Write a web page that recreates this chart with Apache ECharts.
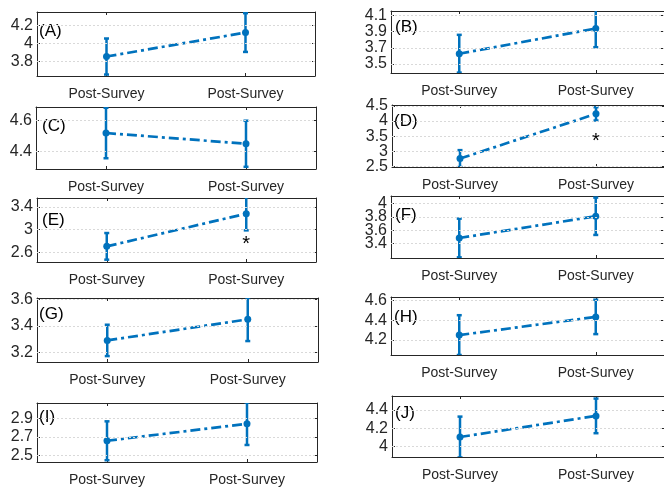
<!DOCTYPE html>
<html><head><meta charset="utf-8">
<script src="https://cdn.jsdelivr.net/npm/echarts@6/dist/echarts.min.js"></script>
<style>html,body{margin:0;padding:0;background:#fff}#c{width:664px;height:487px}</style>
</head><body><div id="c"></div>
<script>
// ---- data ----
const xLabels = ['Post-Survey', 'Post-Survey'];
const panelNames = ['(A)', '(B)', '(C)', '(D)', '(E)', '(F)', '(G)', '(H)', '(I)', '(J)'];

const meanA = [3.856, 4.122], errA = [0.200, 0.215], yRangeA = [3.64, 4.35], ticksA = [3.8, 4, 4.2];
const meanB = [3.627, 3.937], errB = [0.232, 0.230], yRangeB = [3.39, 4.152], ticksB = [3.5, 3.7, 3.9, 4.1];
const meanC = [4.519, 4.450], errC = [0.162, 0.148], yRangeC = [4.288, 4.686], ticksC = [4.4, 4.6];
const meanD = [2.757, 4.240], errD = [0.280, 0.220], yRangeD = [2.478, 4.533], ticksD = [2.5, 3, 3.5, 4, 4.5];
const meanE = [2.706, 3.282], errE = [0.235, 0.294], yRangeE = [2.43, 3.559], ticksE = [2.6, 3, 3.4];
const meanF = [3.484, 3.810], errF = [0.290, 0.280], yRangeF = [3.184, 4.114], ticksF = [3.4, 3.6, 3.8, 4];
const meanG = [3.291, 3.451], errG = [0.119, 0.165], yRangeG = [3.127, 3.613], ticksG = [3.2, 3.4, 3.6];
const meanH = [4.250, 4.433], errH = [0.200, 0.173], yRangeH = [4.05, 4.633], ticksH = [4.2, 4.4, 4.6];
const meanI = [2.658, 2.840], errI = [0.208, 0.227], yRangeI = [2.431, 3.062], ticksI = [2.5, 2.7, 2.9];
const meanJ = [4.103, 4.335], errJ = [0.224, 0.190], yRangeJ = [3.884, 4.553], ticksJ = [4, 4.2, 4.4];

// significance markers: [panel index, category index, y value]
const starD = [3, 1, 3.32];
const starE = [4, 1, 2.74];

const means = [meanA, meanB, meanC, meanD, meanE, meanF, meanG, meanH, meanI, meanJ];
const errs = [errA, errB, errC, errD, errE, errF, errG, errH, errI, errJ];
const yRanges = [yRangeA, yRangeB, yRangeC, yRangeD, yRangeE, yRangeF, yRangeG, yRangeH, yRangeI, yRangeJ];
const yTicks = [ticksA, ticksB, ticksC, ticksD, ticksE, ticksF, ticksG, ticksH, ticksI, ticksJ];
const stars = [starD, starE];

// ---- layout ----
const grids = [
  {left: 37, top: 12, width: 278, height: 64},
  {left: 391, top: 11, width: 281, height: 62},
  {left: 36, top: 107, width: 280, height: 62},
  {left: 392, top: 105, width: 280, height: 62},
  {left: 37, top: 198, width: 279, height: 64},
  {left: 391, top: 196, width: 281, height: 62},
  {left: 37, top: 298, width: 281, height: 64},
  {left: 391, top: 297, width: 280, height: 58},
  {left: 37, top: 403, width: 280, height: 60},
  {left: 392, top: 396, width: 280, height: 61}
];
const labelPos = [
  [39, 23], [395, 19], [42, 118], [394, 113], [42, 212],
  [395, 207], [39, 306], [394, 309], [39, 409], [395, 405]
];

const FONT = "'Liberation Sans', Arial, Helvetica, sans-serif";
const TXT = '#262626';
const BLUE = '#0072BD';
const AX = '#262626';

const xAxes = [], yAxes = [], series = [], graphics = [];
const mainY = [];
grids.forEach((g, i) => {
  xAxes.push({
    type: 'category', gridIndex: i, data: xLabels, position: 'bottom', boundaryGap: true,
    axisLine: {show: true, onZero: false, lineStyle: {color: AX, width: 1}},
    axisTick: {show: true, inside: true, alignWithLabel: true, length: 3, lineStyle: {color: AX}},
    axisLabel: {show: true, interval: 0, margin: 11, fontSize: 14, fontFamily: FONT, color: TXT},
    splitLine: {show: false}
  });
  xAxes.push({
    type: 'category', gridIndex: i, data: xLabels, position: 'top', boundaryGap: true,
    axisLine: {show: true, onZero: false, lineStyle: {color: AX, width: 1}},
    axisTick: {show: true, inside: true, alignWithLabel: true, length: 3, lineStyle: {color: AX}},
    axisLabel: {show: false},
    splitLine: {show: false}
  });
  const yi = yAxes.length;
  mainY.push(yi);
  // main left axis: line and inside ticks
  yAxes.push({
    type: 'value', gridIndex: i, position: 'left', min: yRanges[i][0], max: yRanges[i][1],
    axisLine: {show: true, onZero: false, lineStyle: {color: AX, width: 1}},
    axisTick: {show: true, inside: true, length: 3, customValues: yTicks[i], lineStyle: {color: AX}},
    axisLabel: {show: false},
    splitLine: {show: false}
  });
  // right axis (box side with inside ticks)
  yAxes.push({
    type: 'value', gridIndex: i, position: 'right', min: yRanges[i][0], max: yRanges[i][1],
    axisLine: {show: true, onZero: false, lineStyle: {color: AX, width: 1}},
    axisTick: {show: true, inside: true, length: 3, customValues: yTicks[i], lineStyle: {color: AX}},
    axisLabel: {show: false},
    splitLine: {show: false}
  });
  // one label-carrying axis per tick value so tightly packed labels all stay visible
  yTicks[i].forEach(v => {
    yAxes.push({
      type: 'value', gridIndex: i, position: 'left', offset: 0, min: yRanges[i][0], max: yRanges[i][1],
      axisLine: {show: false}, axisTick: {show: false},
      axisLabel: {show: true, customValues: [v], interval: 0, hideOverlap: false,
        showMinLabel: true, showMaxLabel: true,
        margin: 4, fontSize: 16, fontFamily: FONT, color: TXT},
      splitLine: {show: false}
    });
  });
  const xi = 2 * i;
  // dotted horizontal grid lines at tick values
  series.push({
    type: 'line', xAxisIndex: xi, yAxisIndex: yi, data: [], silent: true,
    markLine: {
      silent: true, symbol: 'none', label: {show: false},
      lineStyle: {color: '#d9d9d9', type: [2, 2], width: 1},
      data: yTicks[i].map(v => ({yAxis: v}))
    }
  });
  // error bars
  series.push({
    type: 'custom', xAxisIndex: xi, yAxisIndex: yi, clip: true, z: 3,
    data: means[i].map((m, k) => [k, m, errs[i][k]]),
    encode: {x: 0, y: 1},
    renderItem: (params, api) => {
      const x = api.value(0), m = api.value(1), e = api.value(2);
      const t = api.coord([x, m + e]), b = api.coord([x, m - e]);
      const cw = 2.5;
      const st = {stroke: BLUE, lineWidth: 2.5};
      return {type: 'group', children: [
        {type: 'line', shape: {x1: t[0], y1: t[1], x2: b[0], y2: b[1]}, style: st},
        {type: 'line', shape: {x1: t[0] - cw, y1: t[1], x2: t[0] + cw, y2: t[1]}, style: st},
        {type: 'line', shape: {x1: b[0] - cw, y1: b[1], x2: b[0] + cw, y2: b[1]}, style: st}
      ]};
    }
  });
  // mean line
  series.push({
    type: 'line', xAxisIndex: xi, yAxisIndex: yi, data: means[i], z: 4,
    symbol: 'circle', symbolSize: 7, showSymbol: true,
    itemStyle: {color: BLUE},
    lineStyle: {color: BLUE, width: 2.7, type: [10, 4, 3, 4]},
    animation: false
  });
  graphics.push({
    type: 'text', left: labelPos[i][0], top: labelPos[i][1],
    style: {text: panelNames[i], font: '17px ' + FONT, fill: '#000'}
  });
});

stars.forEach(s => {
  series.push({
    type: 'custom', xAxisIndex: 2 * s[0], yAxisIndex: mainY[s[0]], z: 5,
    data: [[s[1], s[2]]], encode: {x: 0, y: 1},
    renderItem: (params, api) => {
      const p = api.coord([api.value(0), api.value(1)]);
      return {type: 'text', x: p[0], y: p[1],
        style: {text: '*', font: '20px ' + FONT, fill: '#000', align: 'center', verticalAlign: 'middle'}};
    }
  });
});

const chart = echarts.init(document.getElementById('c'), null, {renderer: 'canvas'});
chart.setOption({
  animation: false,
  backgroundColor: '#fff',
  grid: grids.map(g => Object.assign({containLabel: false, show: false}, g)),
  xAxis: xAxes,
  yAxis: yAxes,
  series: series,
  graphic: graphics
});
</script>
</body></html>
